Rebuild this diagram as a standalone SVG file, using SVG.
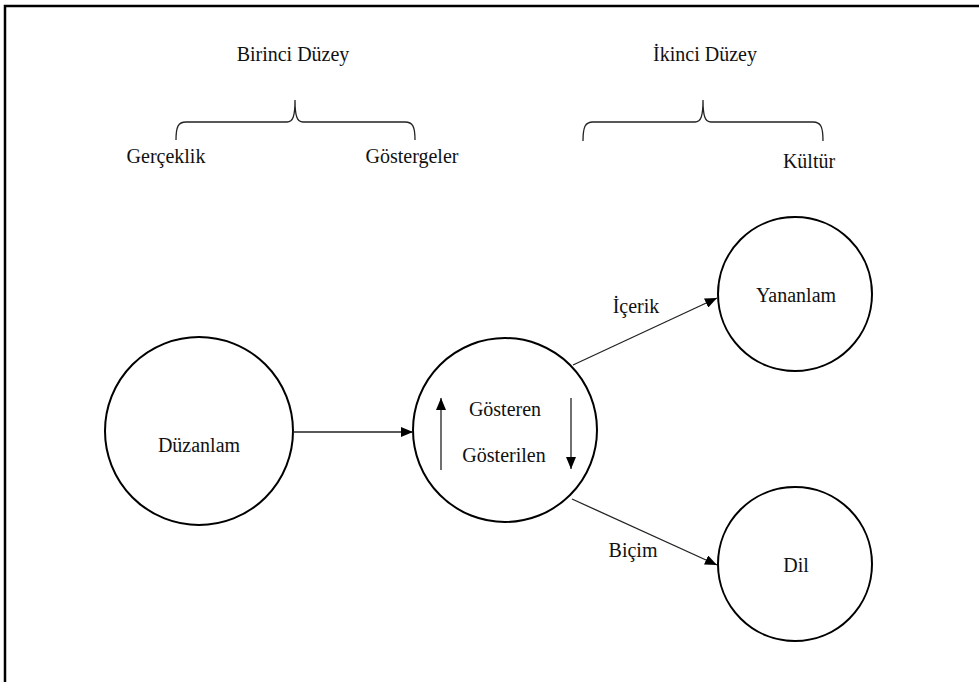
<svg xmlns="http://www.w3.org/2000/svg" width="979" height="682" viewBox="0 0 979 682">
<defs>
<marker id="ah" viewBox="0 0 12 10" refX="12" refY="5" markerWidth="12" markerHeight="10" markerUnits="userSpaceOnUse" orient="auto">
<path d="M0,0 L12,5 L0,10 Z" fill="#000"/>
</marker>
</defs>
<style>
text{font-family:"Liberation Serif","Times New Roman",serif;font-size:20px;fill:#111;text-anchor:middle}
.node circle{fill:#fff;stroke:#000;stroke-width:2}
.conn{stroke:#222;stroke-width:1.3;fill:none}
.brace{stroke:#222;stroke-width:1.3;fill:none}
.frame{stroke:#000;stroke-width:2.5;fill:none}
</style>
<rect width="979" height="682" fill="#fff"/>
<path class="frame" d="M5,682 L5,6 L979,6"/>

<g id="labels">
<text x="293" y="61">Birinci Düzey</text>
<text x="705" y="61">İkinci Düzey</text>
<path class="brace" d="M176,140 C176,127 178,122 186,122 L287,122 C293,122 295,116 295,100 C295,116 297,122 303,122 L405,122 C413,122 415,127 415,140"/>
<path class="brace" d="M583,141 C583,127 585,122 593,122 L695,122 C701,122 703,116 703,100 C703,116 705,122 711,122 L813,122 C821,122 823,127 823,141"/>
<text x="166" y="163">Gerçeklik</text>
<text x="412" y="163">Göstergeler</text>
<text x="809" y="168">Kültür</text>
</g>

<g id="duzanlam" class="node">
<circle cx="199" cy="431" r="94"/>
<text x="199" y="452">Düzanlam</text>
</g>
<g id="gosteren" class="node">
<circle cx="505" cy="430" r="92"/>
<text x="505" y="416">Gösteren</text>
<text x="504" y="462">Gösterilen</text>
</g>
<g id="yananlam" class="node">
<circle cx="795" cy="294" r="77"/>
<text x="796" y="302">Yananlam</text>
</g>
<g id="dil" class="node">
<circle cx="795" cy="564" r="77"/>
<text x="796" y="572">Dil</text>
</g>

<g id="connectors">
<line class="conn" x1="293" y1="432" x2="413" y2="432" marker-end="url(#ah)"/>
<line class="conn" x1="573" y1="365" x2="717" y2="298" marker-end="url(#ah)"/>
<line class="conn" x1="572" y1="499" x2="717" y2="565" marker-end="url(#ah)"/>
<line class="conn" x1="441" y1="470" x2="441" y2="398" marker-end="url(#ah)"/>
<line class="conn" x1="571" y1="398" x2="571" y2="469" marker-end="url(#ah)"/>
<text x="636" y="313">İçerik</text>
<text x="633" y="557">Biçim</text>
</g>
</svg>
